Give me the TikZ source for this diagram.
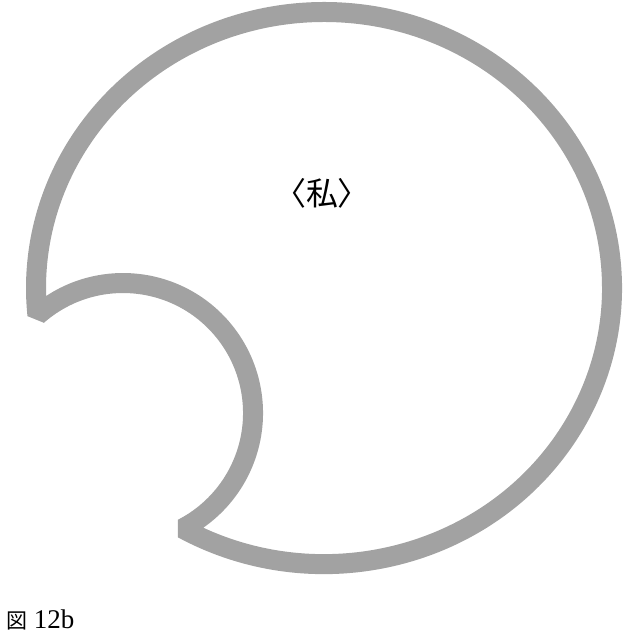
\documentclass[tikz,border=0pt]{standalone}
\usepackage{fontspec}
\setmainfont{Liberation Serif}
\newfontfamily\jpfont[RawFeature={+palt}]{Noto Sans CJK JP}
\usepackage{tikz}
\usetikzlibrary{calc}
\definecolor{rimgray}{RGB}{162,162,162}

\begin{document}
\begin{tikzpicture}[x=1pt, y=1pt,
    rim/.style={draw=rimgray, line width=20pt, line join=bevel}]
  \useasboundingbox (0,0) rectangle (624,636);
  \coordinate (big) at (324,348);
  \coordinate (bite) at (123,223);
  % outer rim with the bite taken out
  \draw[rim] ($(big)+(0:288 and 276)$)
    arc[start angle=0, end angle=185.66, x radius=288, y radius=276]
    arc[start angle=131.2, end angle=-62.7, radius=130]
    arc[start angle=240.6, end angle=362, x radius=288, y radius=276];
  \node (me) at (322,443) {\jpfont\fontsize{32}{32}\selectfont 〈私〉};
  \node[anchor=base west, inner sep=0pt] (caption) at (6,7)
    {\fontsize{27}{27}\selectfont{\jpfont\fontsize{21}{21}\selectfont 図} 12b};
\end{tikzpicture}
\end{document}
